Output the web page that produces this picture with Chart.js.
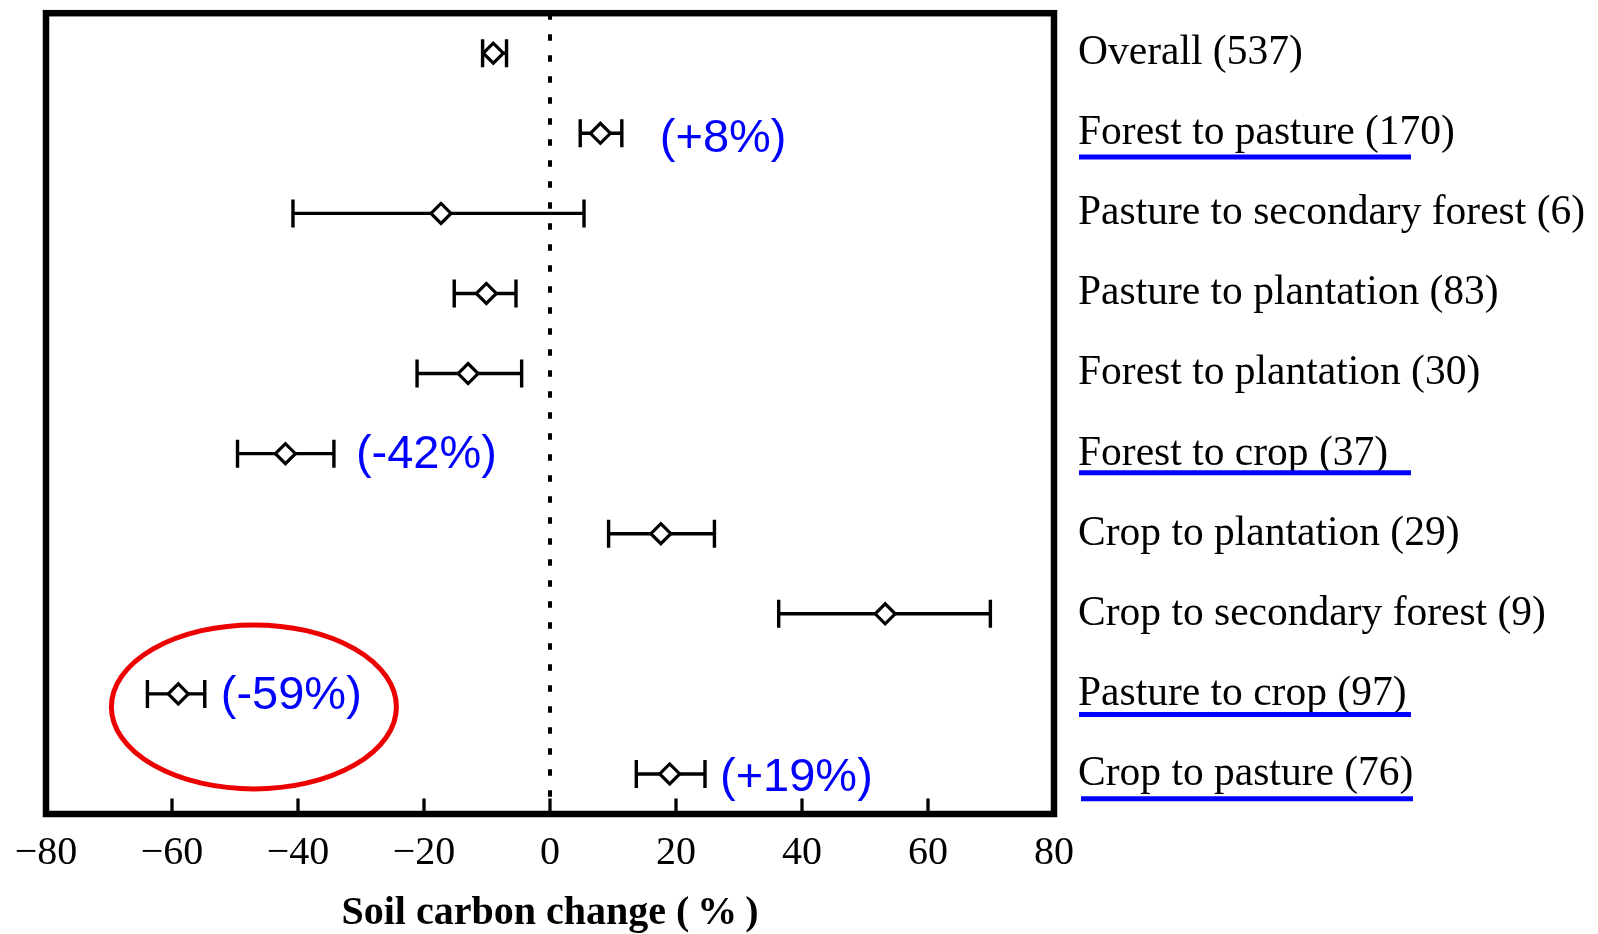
<!DOCTYPE html>
<html>
<head>
<meta charset="utf-8">
<title>Soil carbon change after land-use change</title>
<script src="https://cdn.jsdelivr.net/npm/chart.js@4.4.1/dist/chart.umd.min.js"></script>
<style>
  html, body { margin: 0; padding: 0; background: #fff; }
  #wrap { width: 1598px; height: 934px; position: relative; }
</style>
</head>
<body>
<div id="wrap"><canvas id="c"></canvas></div>
<script>
// Land-use transitions and the number of observations behind each one
const transitions = ['Overall', 'Forest to pasture', 'Pasture to secondary forest', 'Pasture to plantation',
  'Forest to plantation', 'Forest to crop', 'Crop to plantation', 'Crop to secondary forest',
  'Pasture to crop', 'Crop to pasture'];
const observations = [537, 170, 6, 83, 30, 37, 29, 9, 97, 76];

// Mean soil carbon change (%) with lower / upper confidence limits
const meanChange = [-9, 8, -17.3, -10.1, -13, -42, 17.6, 53.2, -59, 19];
const lowerCI    = [-10.7, 4.8, -40.8, -15.2, -21.1, -49.6, 9.3, 36.3, -63.9, 13.7];
const upperCI    = [-6.9, 11.4, 5.4, -5.4, -4.5, -34.3, 26.1, 69.9, -54.8, 24.6];

// x-axis tick values
const xTicks = [-80, -60, -40, -20, 0, 20, 40, 60, 80];

// Highlighted transitions: blue percentage callouts and underlined labels
const calloutRows = [1, 5, 8, 9];
const calloutStyle = { 1: { gap: 38, dy: 6 }, 5: { gap: 22, dy: 1.5 }, 8: { gap: 16, dy: 2.5 }, 9: { gap: 15, dy: 4 } };
const underlineStyle = { 1: { x0: 25, dy: 23.7 }, 5: { x0: 25, dy: 19.2 }, 8: { x0: 25, dy: 20.5 }, 9: { x0: 27, dy: 24.7 } };
const UNDERLINE_LEN = 332;

const SERIF = "'Liberation Serif', 'Times New Roman', serif";
const SANS = "'Liberation Sans', Arial, sans-serif";
const BLUE = 'rgb(0,0,255)';

const pct = v => '(' + (v > 0 ? '+' : '-') + Math.abs(v) + '%)';

const decor = {
  id: 'decor',
  beforeDatasetsDraw(chart) {
    const { ctx, chartArea: a, scales: { x, y } } = chart;
    ctx.save();
    // dotted reference line at zero change
    const x0 = x.getPixelForValue(0);
    ctx.strokeStyle = '#000';
    ctx.lineWidth = 4;
    ctx.setLineDash([6.5, 14.5]);
    ctx.beginPath();
    ctx.moveTo(x0, a.top);
    ctx.lineTo(x0, a.bottom);
    ctx.stroke();
    ctx.setLineDash([]);

    // confidence-interval whiskers with end caps
    ctx.lineWidth = 3.4;
    ctx.lineCap = 'butt';
    transitions.forEach((_, i) => {
      const py = y.getPixelForValue(i);
      const xl = x.getPixelForValue(lowerCI[i]);
      const xh = x.getPixelForValue(upperCI[i]);
      ctx.beginPath();
      ctx.moveTo(xl, py); ctx.lineTo(xh, py);
      ctx.moveTo(xl, py - 14); ctx.lineTo(xl, py + 14);
      ctx.moveTo(xh, py - 14); ctx.lineTo(xh, py + 14);
      ctx.stroke();
    });
    ctx.restore();
  },
  afterDatasetsDraw(chart) {
    const { ctx, chartArea: a, scales: { x, y } } = chart;
    ctx.save();

    // heavy frame around the plotting area
    ctx.strokeStyle = '#000';
    ctx.lineWidth = 6.5;
    ctx.strokeRect(a.left, a.top, a.right - a.left, a.bottom - a.top);

    // inward tick marks on the bottom axis
    ctx.lineWidth = 3.3;
    xTicks.forEach(v => {
      if (v <= x.min || v >= x.max) return;
      const px = x.getPixelForValue(v);
      ctx.beginPath();
      ctx.moveTo(px, a.bottom);
      ctx.lineTo(px, a.bottom - 15.5);
      ctx.stroke();
    });

    // red ring around the pasture-to-crop estimate
    const ry8 = y.getPixelForValue(8);
    ctx.strokeStyle = 'rgb(236,0,0)';
    ctx.lineWidth = 5;
    ctx.beginPath();
    ctx.ellipse(x.getPixelForValue(-47), ry8 + 13, 142.5, 82, 0, 0, Math.PI * 2);
    ctx.stroke();

    // blue percentage callouts
    ctx.fillStyle = BLUE;
    ctx.font = '47px ' + SANS;
    ctx.textAlign = 'left';
    ctx.textBaseline = 'middle';
    calloutRows.forEach(i => {
      const s = calloutStyle[i];
      ctx.fillText(pct(meanChange[i]), x.getPixelForValue(upperCI[i]) + s.gap, y.getPixelForValue(i) + s.dy);
    });

    // blue underlines beneath the highlighted category labels
    ctx.strokeStyle = BLUE;
    ctx.lineWidth = 5;
    calloutRows.forEach(i => {
      const u = underlineStyle[i];
      const py = y.getPixelForValue(i) + u.dy;
      ctx.beginPath();
      ctx.moveTo(y.left + u.x0, py);
      ctx.lineTo(y.left + u.x0 + UNDERLINE_LEN, py);
      ctx.stroke();
    });
    ctx.restore();
  }
};

new Chart(document.getElementById('c'), {
  type: 'line',
  data: {
    labels: transitions.map((t, i) => t + ' (' + observations[i] + ')'),
    datasets: [{
      data: meanChange,
      showLine: false,
      pointStyle: 'rectRot',
      pointRadius: 10,
      pointHoverRadius: 10,
      pointBorderWidth: 3.2,
      pointHoverBorderWidth: 3.2,
      borderColor: '#000',
      backgroundColor: '#fff',
      pointBackgroundColor: '#fff',
      pointBorderColor: '#000'
    }]
  },
  options: {
    indexAxis: 'y',
    responsive: true,
    maintainAspectRatio: false,
    devicePixelRatio: 1,
    animation: false,
    events: [],
    layout: { padding: { left: 46, top: 11, right: 0, bottom: 0 } },
    plugins: { legend: { display: false }, tooltip: { enabled: false } },
    scales: {
      x: {
        type: 'linear',
        position: 'bottom',
        min: -80,
        max: 80,
        afterBuildTicks: s => { s.ticks = xTicks.map(v => ({ value: v })); },
        afterFit: s => { s.height = 120; },
        grid: { display: false },
        border: { display: false },
        ticks: {
          color: '#000',
          padding: 7,
          maxRotation: 0,
          font: { family: SERIF, size: 40, lineHeight: 1.2 },
          callback: v => (v < 0 ? '\u2212' + Math.abs(v) : String(v))
        },
        title: {
          display: true,
          text: 'Soil carbon change (\u2009%\u2009)',
          color: '#000',
          font: { family: SERIF, size: 40, weight: 'bold', lineHeight: 1 },
          padding: { top: 0, bottom: 0 }
        }
      },
      y: {
        type: 'category',
        position: 'right',
        offset: true,
        afterFit: s => { s.width = 544; s.paddingTop = 0; s.paddingBottom = 0; },
        grid: { display: false, drawTicks: false },
        border: { display: false },
        ticks: {
          color: '#000',
          padding: 24,
          autoSkip: false,
          font: { family: SERIF, size: 41.5 }
        }
      }
    }
  },
  plugins: [decor]
});
</script>
</body>
</html>
